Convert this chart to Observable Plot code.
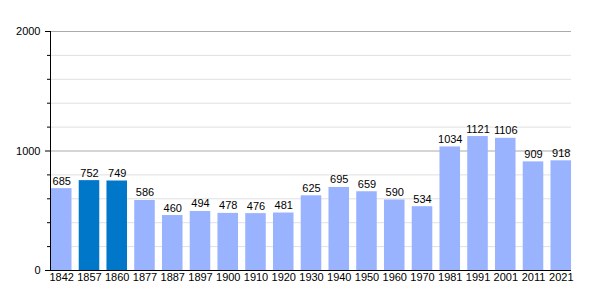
<!DOCTYPE html>
<html>
<head>
<meta charset="utf-8">
<script src="https://cdn.jsdelivr.net/npm/d3@7"></script>
<script src="https://cdn.jsdelivr.net/npm/@observablehq/plot@0.6"></script>
<style>
  html, body { margin: 0; padding: 0; background: #fff; }
</style>
</head>
<body>
<div id="chart"></div>
<script>
const years = ["1842","1857","1860","1877","1887","1897","1900","1910","1920","1930","1940","1950","1960","1970","1981","1991","2001","2011","2021"];
const population = [685,752,749,586,460,494,478,476,481,625,695,659,590,534,1034,1121,1106,909,918];
const highlighted = ["1857","1860"];
const majorTicks = [0,1000,2000];
const minorTicks = [200,400,600,800,1200,1400,1600,1800];

const data = years.map((y, i) => ({i, year: y, pop: population[i], hl: highlighted.includes(y)}));
const half = 0.37;

const chart = Plot.plot({
  width: 600,
  height: 300,
  marginLeft: 50,
  marginRight: 29,
  marginTop: 31,
  marginBottom: 30,
  style: {fontFamily: "'Liberation Sans', Arial, sans-serif", fontSize: "11px", color: "#000", background: "#fff"},
  x: {type: "linear", domain: [-0.405, 18.369], axis: null, label: null},
  y: {domain: [0, 2000], axis: null, label: null},
  marks: [
    Plot.gridY(minorTicks, {stroke: "#e0e0e0", strokeOpacity: 1}),
    Plot.gridY([1000, 2000], {stroke: "#aaaaaa", strokeOpacity: 1}),
    Plot.rectY(data, {x1: d => d.i - half, x2: d => d.i + half, y: "pop", fill: d => d.hl ? "#0077c8" : "#99b3ff"}),
    Plot.text(data, {x: "i", y: "pop", text: d => String(d.pop), dy: -4, lineAnchor: "bottom", fill: "#000"}),
    Plot.axisX(data.map(d => d.i), {tickSize: 0, tickPadding: 3, fill: "#000", tickFormat: i => years[i], label: null}),
    Plot.axisY(majorTicks, {tickSize: 5, tickPadding: 5, stroke: "#000", fill: "#000", tickFormat: d => String(d), label: null}),
    Plot.axisY(minorTicks, {tickSize: 3, tickFormat: () => "", stroke: "#000", label: null}),
    Plot.ruleY([0], {stroke: "#000"}),
    Plot.frame({anchor: "left", stroke: "#000"})
  ]
});
document.getElementById("chart").appendChild(chart);
</script>
</body>
</html>
